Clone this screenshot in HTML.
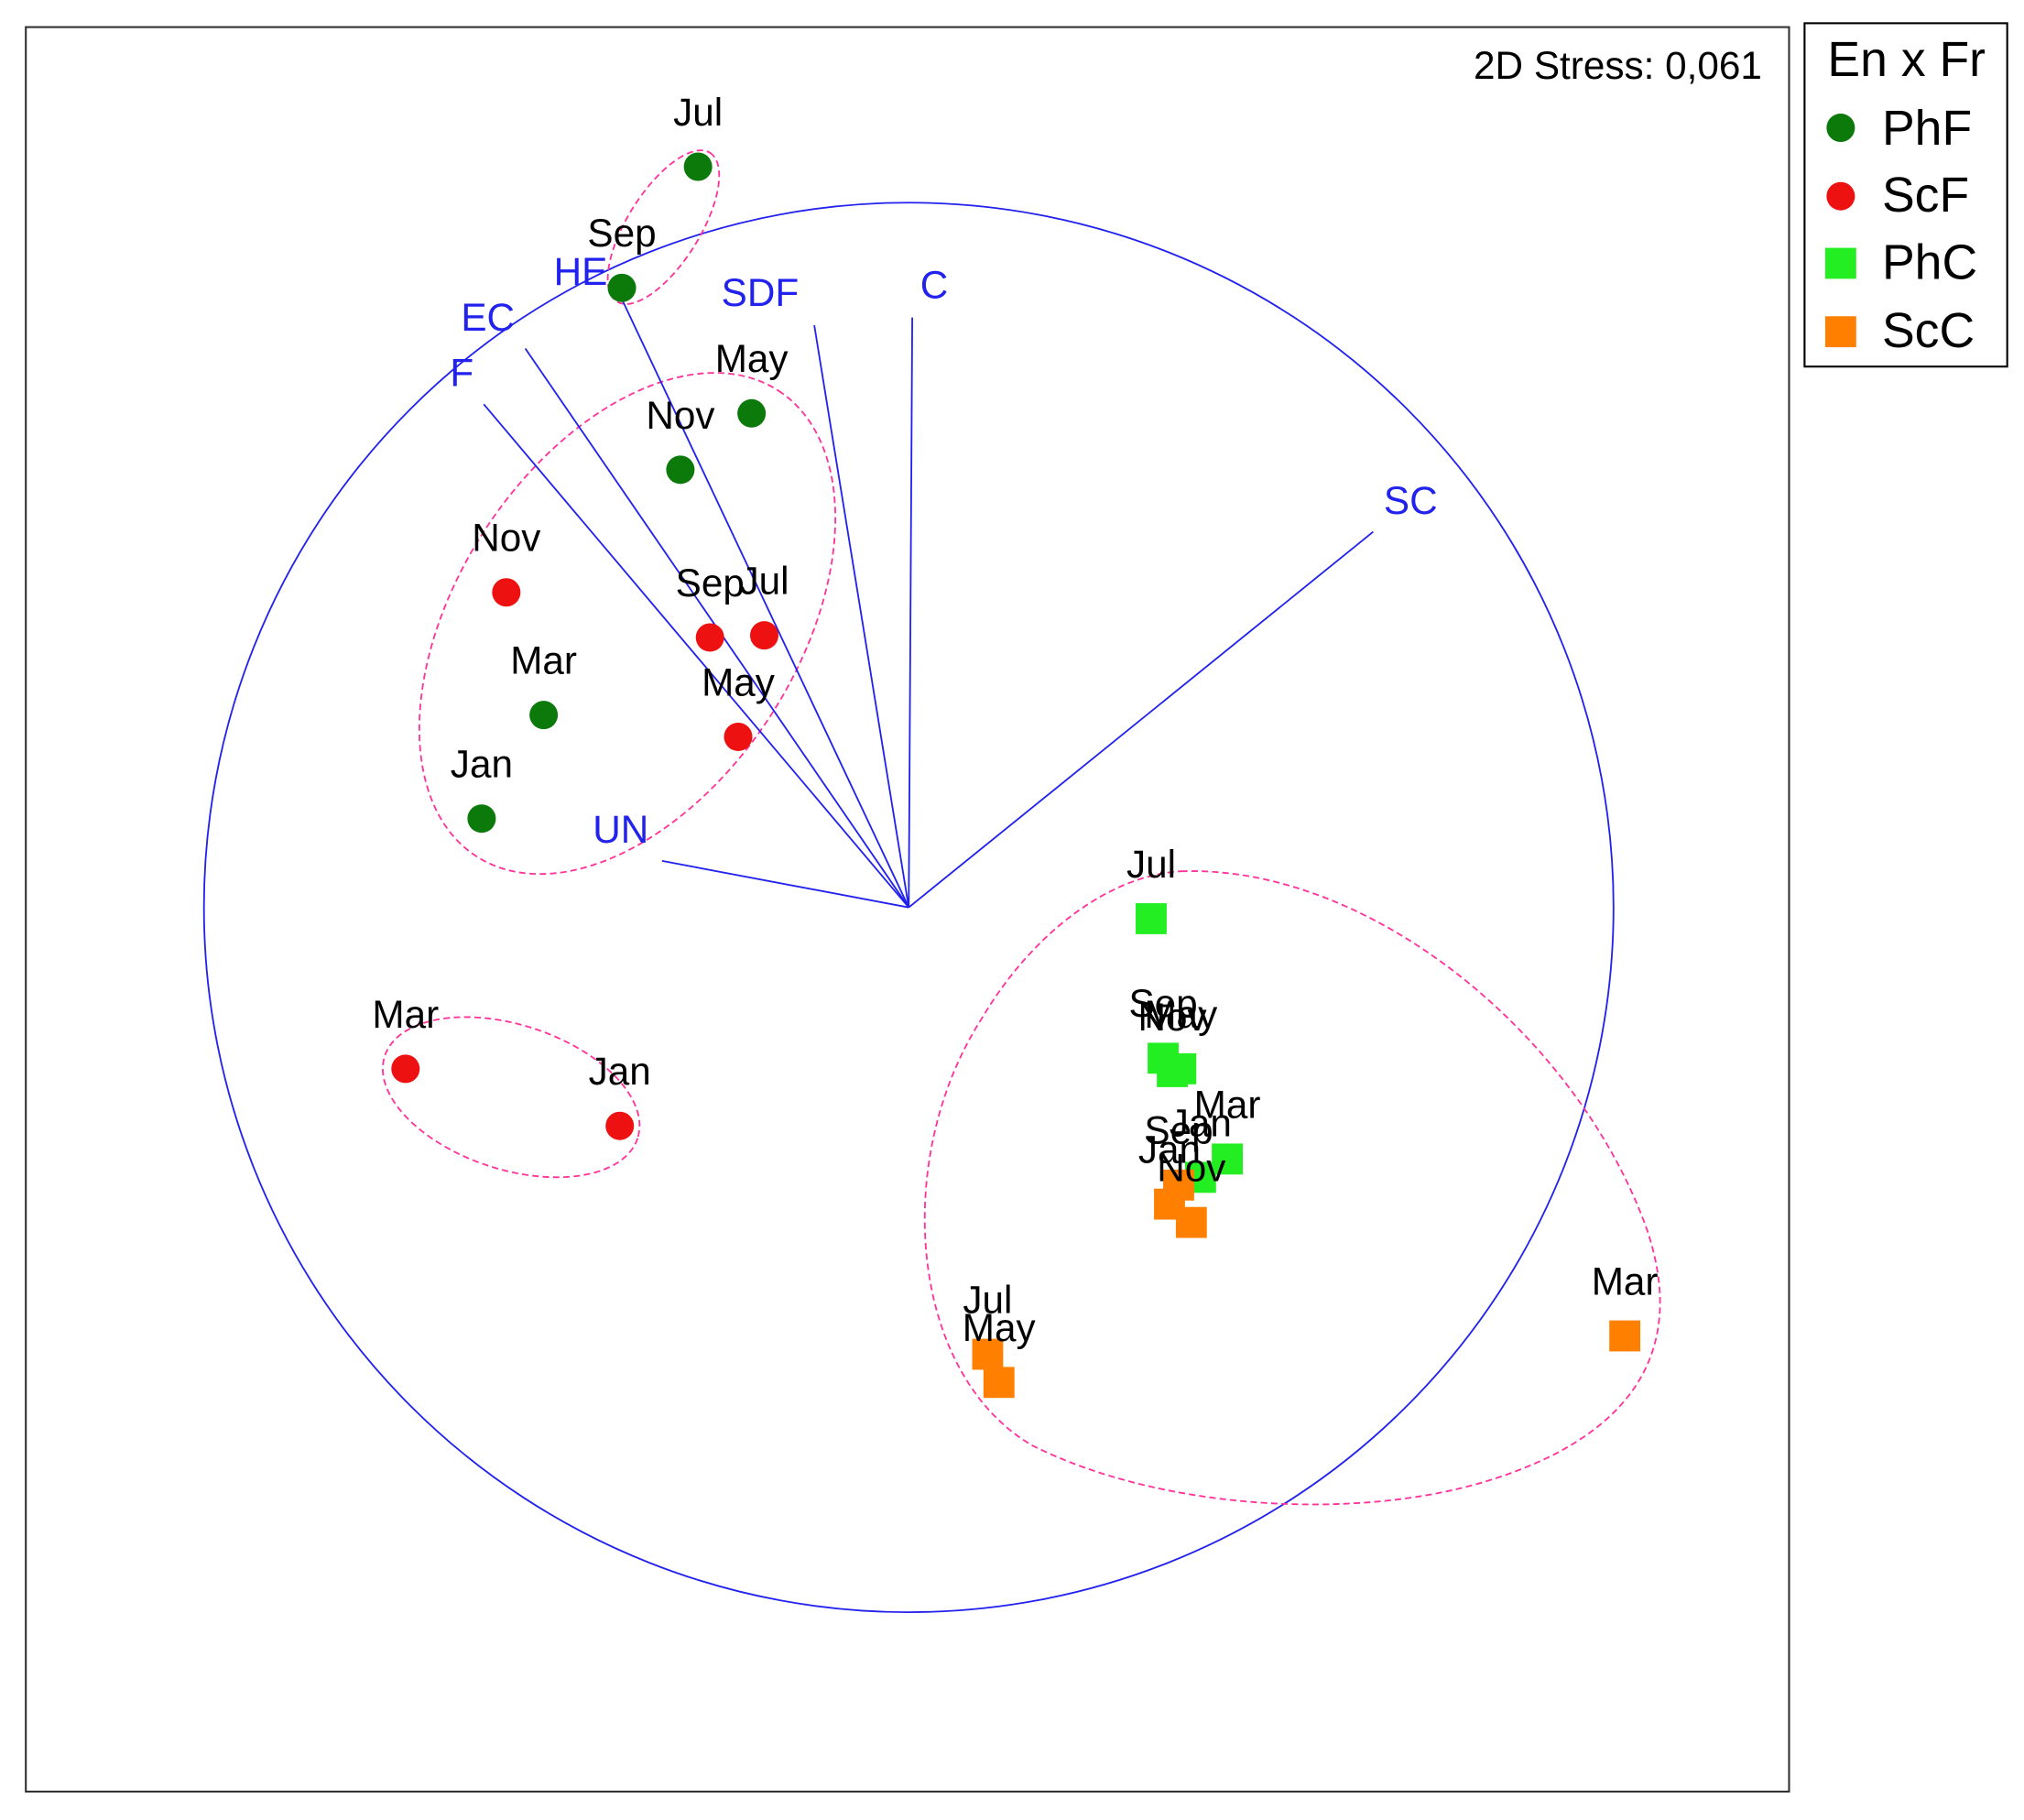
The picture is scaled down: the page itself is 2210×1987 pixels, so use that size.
<!DOCTYPE html>
<html><head><meta charset="utf-8"><style>
html,body{margin:0;padding:0;background:#fff;}
svg{display:block;font-family:"Liberation Sans",sans-serif;}
</style></head><body>
<svg id="chart" width="2210" height="1987" viewBox="0 0 1568 1410" preserveAspectRatio="none" xmlns="http://www.w3.org/2000/svg">
<rect x="20" y="21" width="1366" height="1367" fill="#fff" stroke="#333" stroke-width="1.5"/>
<text x="1365" y="61" font-size="30" text-anchor="end" fill="#000">2D Stress: 0,061</text>
<ellipse cx="704" cy="703" rx="546" ry="546" fill="none" stroke="#2222ee" stroke-width="1.3"/>
<g fill="none" stroke="#ff3399" stroke-width="1.3" stroke-dasharray="5,3">
<ellipse cx="514" cy="176" rx="68" ry="28" transform="rotate(-58 514 176)"/>
<ellipse cx="486" cy="483" rx="215" ry="132" transform="rotate(-57 486 483)"/>
<ellipse cx="396" cy="850" rx="103" ry="56" transform="rotate(18 396 850)"/>
<path d="M 915 675 C 1060 670, 1220 800, 1275 950 C 1310 1050, 1260 1115, 1150 1148 C 1050 1178, 900 1170, 800 1120 C 705 1065, 690 900, 760 790 C 800 722, 860 678, 915 675 Z"/>
</g>
<g id="vectors"></g>
<g id="points"></g>
<g>
<rect x="1398" y="18" width="157" height="266" fill="#fff" stroke="#000" stroke-width="1.5"/>
<text x="1477" y="59" font-size="38" text-anchor="middle">En x Fr</text>
<g><circle cx="1426" cy="99" r="11" fill="#0b7a0b"/><text x="1458" y="112" font-size="38">PhF</text></g>
<g><circle cx="1426" cy="152" r="11" fill="#ee1111"/><text x="1458" y="164" font-size="38">ScF</text></g>
<g><rect x="1414" y="192" width="24" height="24" fill="#22ee22"/><text x="1458" y="216" font-size="38">PhC</text></g>
<g><rect x="1414" y="245" width="24" height="24" fill="#ff8000"/><text x="1458" y="269" font-size="38">ScC</text></g>
</g>
</svg>
<script>
const vecNames = ["HE","EC","F","SDF","C","SC","UN"];
const vecX = [-0.407,-0.544,-0.603,-0.134,0.005,0.659,-0.350];
const vecY = [0.863,0.793,0.714,0.826,0.837,0.533,0.066];
const groups = ["PhF","ScF","PhC","ScC"];
const months = ["Jul","Sep","May","Nov","Mar","Jan"];
const phfX = [-0.299,-0.407,-0.223,-0.324,-0.518,-0.606];
const phfY = [1.051,0.879,0.701,0.621,0.273,0.126];
const scfMonths = ["Nov","Sep","Jul","May","Mar","Jan"];
const scfX = [-0.571,-0.282,-0.205,-0.242,-0.714,-0.410];
const scfY = [0.447,0.383,0.386,0.242,-0.229,-0.310];
const phcX = [0.344,0.361,0.386,0.374,0.452,0.414];
const phcY = [-0.016,-0.214,-0.229,-0.233,-0.357,-0.383];
const sccMonths = ["Sep","Jan","Nov","Jul","May","Mar"];
const sccX = [0.383,0.370,0.401,0.112,0.128,1.016];
const sccY = [-0.394,-0.421,-0.447,-0.634,-0.674,-0.608];

const NS="http://www.w3.org/2000/svg";
const sx = v => 704 + v*546;
const sy = v => 703 - v*546;
const labOff = {HE:[-32,-22],EC:[-29,-25],F:[-17,-25],SDF:[-42,-26],C:[17,-26],SC:[29,-25],UN:[-32,-25]};
const vg = document.getElementById('vectors');
vecNames.forEach((n,i)=>{
  const l=document.createElementNS(NS,'line');
  
  
  l.setAttribute('x1',sx(0));l.setAttribute('y1',sy(0));
  l.setAttribute('x2',sx(vecX[i]));l.setAttribute('y2',sy(vecY[i]));
  l.setAttribute('stroke','#2222ee');l.setAttribute('stroke-width','1.3');
  vg.appendChild(l);
  const t=document.createElementNS(NS,'text');
  
  
  const o=labOff[n]||[0,-25];
  t.setAttribute('x',sx(vecX[i])+o[0]);t.setAttribute('y',sy(vecY[i])+o[1]+11);
  t.setAttribute('text-anchor','middle');t.setAttribute('font-size','30');t.setAttribute('fill','#2222ee');
  t.textContent=n;vg.appendChild(t);
});
const pg=document.getElementById('points');
function addSeries(name,xs,ys,labels,color,shape){
  xs.forEach((v,i)=>{
    const cx=sx(v), cy=sy(ys[i]);
    let m;
    if(shape==='circle'){m=document.createElementNS(NS,'circle');m.setAttribute('cx',cx);m.setAttribute('cy',cy);m.setAttribute('r',11);}
    else{m=document.createElementNS(NS,'rect');m.setAttribute('x',cx-12);m.setAttribute('y',cy-12);m.setAttribute('width',24);m.setAttribute('height',24);}
    
    
    m.setAttribute('fill',color);pg.appendChild(m);
  });
  xs.forEach((v,i)=>{
    const t=document.createElementNS(NS,'text');
    
    
    t.setAttribute('x',sx(v));t.setAttribute('y',sy(ys[i])-32);
    t.setAttribute('text-anchor','middle');t.setAttribute('font-size','30');t.setAttribute('fill','#000');
    t.textContent=labels[i];pg.appendChild(t);
  });
}
addSeries('PhF',phfX,phfY,months,'#0b7a0b','circle');
addSeries('ScF',scfX,scfY,scfMonths,'#ee1111','circle');
addSeries('PhC',phcX,phcY,months,'#22ee22','square');
addSeries('ScC',sccX,sccY,sccMonths,'#ff8000','square');
</script>
</body></html>
